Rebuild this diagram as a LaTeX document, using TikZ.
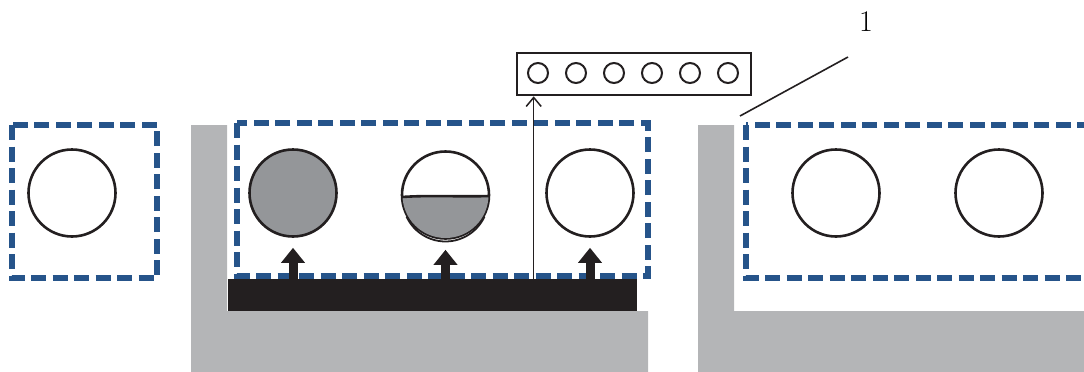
\documentclass[tikz,border=0pt]{standalone}
\usetikzlibrary{arrows.meta,positioning}
\definecolor{zoneblue}{RGB}{38,84,138}
\definecolor{wallgray}{RGB}{180,181,183}
\definecolor{cellgray}{RGB}{148,150,153}
\definecolor{heatblack}{RGB}{35,31,32}

\begin{document}
\begin{tikzpicture}[x=1pt,y=-1pt,
    zone/.style={draw=zoneblue,line width=5.5pt,dash pattern=on 15pt off 6.5pt},
    cell/.style={draw=heatblack,circle,line width=2.6pt,minimum size=87pt,inner sep=0pt},
    dot/.style={draw=heatblack,circle,line width=2pt,minimum size=20pt,inner sep=0pt},
    lift/.style={-{Triangle[length=15pt,width=23pt]},line width=9pt,heatblack}]
      \useasboundingbox (0,0) rectangle (1084,372);
      \clip (0,0) rectangle (1084,372);
      % walls
      \fill[wallgray] (191,125) -- (227,125) -- (227,311) -- (648,311) -- (648,372) -- (191,372) -- cycle;
      \fill[wallgray] (698,125) -- (734,125) -- (734,311) -- (1084,311) -- (1084,372) -- (698,372) -- cycle;
      \node[fill=heatblack,minimum width=409pt,minimum height=32pt,inner sep=0pt] (bar) at (432.5,295) {};
      % zones
      \draw[zone] (12,125) rectangle (157,278);
      \draw[zone] (237,123) rectangle (648,276);
      \draw[zone] (746,125) rectangle (1110,278);
      % cells
      \node[cell] (c0) at (72,193) {};
      \node[cell,fill=cellgray] (c1) at (293,193) {};
      \node[cell] (c2) at (445.5,195) {};
      \node[cell] (c3) at (590,193) {};
      \node[cell] (c4) at (836,193) {};
      \node[cell] (c5) at (999,193) {};
      \begin{scope}
        \clip (c2.center) circle (43pt);
        \fill[cellgray] (400,197) -- (491,196) -- (491,242) -- (400,242) -- cycle;
      \end{scope}
      \draw[heatblack,line width=2.6pt] (402,197) .. controls (430,195) and (460,197) .. (489,196);
      \draw[heatblack,line width=1.8pt] ([yshift=-3.5pt]c2.center) ++(205:43pt) arc[start angle=205,end angle=335,radius=43pt];
      % display
      \node[draw=heatblack,line width=2.6pt,minimum width=234pt,minimum height=42pt,inner sep=0pt] (panel) at (634,74) {};
      \foreach \i in {0,...,5}
        \node[dot] (d\i) at (538+38*\i,73) {};
      \coordinate (tap) at ([xshift=18pt]panel.south west);
      \draw[-{Straight Barb[length=9pt,width=15pt]},line width=1.5pt,heatblack] (bar.north -| tap) -- (tap);
      % heating
      \foreach \c in {c1,c2,c3}
        \draw[lift,shorten >=10pt] (bar.north -| \c) -- (\c);
      % label
      \node[font=\fontsize{30}{32}\selectfont] (tag) at (866,22) {1};
      \coordinate (lead) at (848,57);
      \coordinate (tip) at (740,116);
      \draw[line width=1.6pt,heatblack] (lead) -- (tip);
    \end{tikzpicture}
\end{document}
